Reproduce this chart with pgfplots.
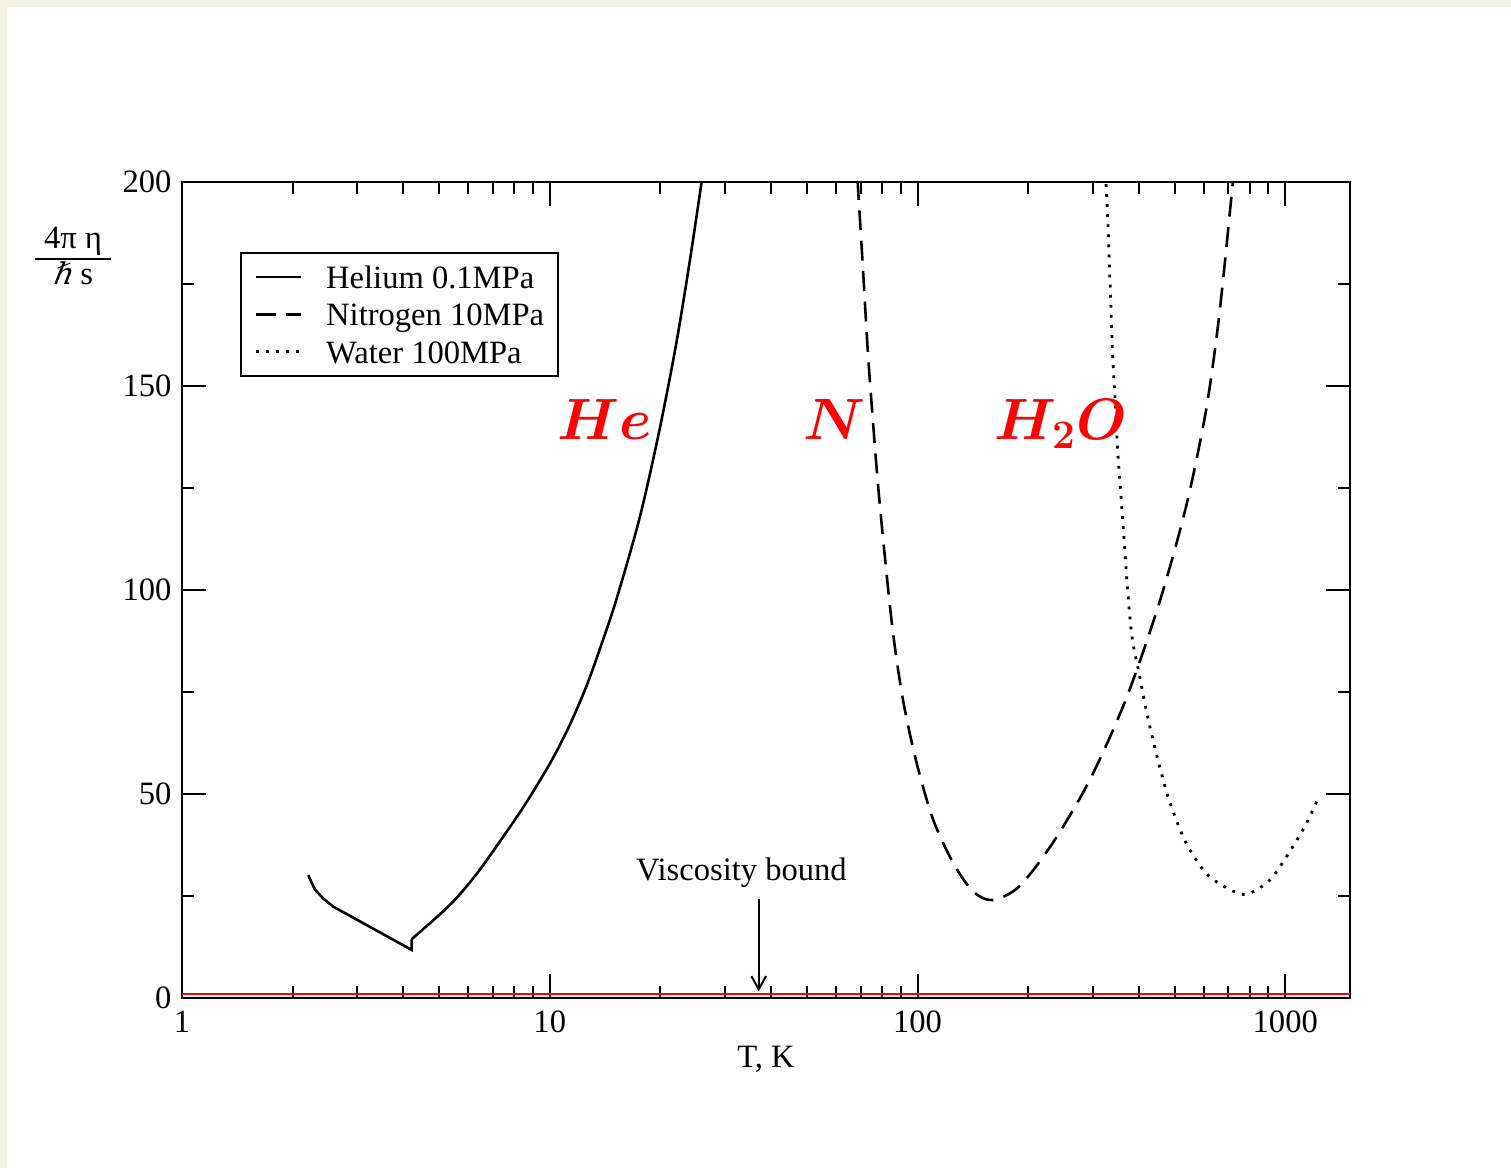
\documentclass[border=0pt]{standalone}
\usepackage{pgfplots}
\pgfplotsset{compat=1.18}
\usepackage{fontspec}
\setmainfont{Liberation Serif}
\newfontfamily\hbarfont[FakeSlant=0.2, Scale=0.92]{DejaVu Serif}
\usetikzlibrary{arrows.meta}
\definecolor{pagetint}{RGB}{242,242,228}

\begin{document}
\fontsize{13.9}{16.7}\selectfont
\begin{tikzpicture}
% page area and its tinted margins
\path[use as bounding box] (-2.73,-2.55) rectangle (19.935,14.97);
\fill[pagetint] (-2.73,-2.55) rectangle (-2.625,14.97);
\fill[pagetint] (-2.73,14.865) rectangle (19.935,14.97);

\begin{axis}[
  at={(0,0)}, anchor=south west,
  scale only axis, width=17.52cm, height=12.24cm,
  xmode=log, xmin=1, xmax=1500, ymin=0, ymax=200,
  xtick={1,10,100,1000}, xticklabels={1,10,100,1000},
  minor xtick={2,3,4,5,6,7,8,9,20,30,40,50,60,70,80,90,200,300,400,500,600,700,800,900},
  ytick={0,50,100,150,200}, minor ytick={25,75,125,175},
  /pgf/number format/assume math mode=true,
  tick pos=both, tick align=inside,
  major tick length=0.36cm, minor tick length=0.18cm,
  tick style={black, line width=0.85pt},
  axis line style={line width=0.85pt},
  xticklabel style={anchor=base, yshift=-0.51cm, inner sep=0pt},
  yticklabel style={anchor=east, inner sep=0pt, xshift=-0.15cm},
  xlabel={T, K},
  xlabel style={at={(axis description cs:0.5,-0.0846)}, anchor=base, inner sep=0pt},
  legend style={at={(axis description cs:0.0497,0.9142)}, anchor=north west,
    draw=black, line width=0.85pt, fill=white,
    inner xsep=0.2cm, inner ysep=0.076cm, row sep=0pt, column sep=0.36cm,
    nodes={inner sep=0pt, text height=0.449cm, text depth=0.1135cm}},
  legend cell align=left,
  legend image code/.code={\draw[#1] (0cm,0cm) -- (0.675cm,0cm);},
]

% viscosity bound, eta/s = hbar/(4 pi)
\addplot[red, line width=0.85pt, forget plot] coordinates {(1,1) (1500,1)};

% helium, 0.1 MPa
\addplot[black, line width=1.1pt] coordinates {
  (2.204,30.1) (2.298,26.6) (2.42,24.4) (2.577,22.4) (4.21,11.8) (4.21,14.4)};
\addlegendentry{Helium 0.1MPa}
\addplot[black, line width=1.1pt, smooth, forget plot] coordinates {
  (4.21,14.4) (5.35,22.8) (6.3,30.2) (7.31,38.3) (8.55,47.3) (10.0,57.4)
  (11.25,66.3) (12.58,76.4) (13.8,86.5) (15.18,97.7) (17.57,117.8)
  (19.9,139.4) (22.1,160.6) (24.0,180.3) (25.8,199.2) (25.9,200.5)};

% nitrogen, 10 MPa
\addplot[black, line width=1.1pt, dash pattern=on 8.5pt off 4.5pt, smooth] coordinates {
  (68.7,200.5) (71.0,179.4) (73.3,158.2) (75.6,141.7) (78.0,126.3) (81.4,108.7)
  (85.7,89.8) (91.2,73.3) (99.2,58.0) (110.1,43.9) (124.7,33.3) (141.3,26.2)
  (160.2,24.0) (189.3,27.4) (233.2,38.0) (293.5,53.3) (369.1,73.3) (454.6,96.9)
  (537.5,120.5) (608.8,144.0) (661.9,167.6) (719.3,199.4) (720.5,200.5)};
\addlegendentry{Nitrogen 10MPa}

% water, 100 MPa
\addplot[black, line width=1.2pt, dash pattern=on 1.2pt off 3.1pt, smooth] coordinates {
  (325.6,199.5) (328.9,191.5) (332.4,180.0) (336.0,168.6) (339.4,157.1)
  (345.1,145.7) (350.2,134.2) (357.7,122.8) (365.2,111.3) (372.8,99.9)
  (383.2,88.4) (401.1,79.2) (422.5,68.9) (449.8,58.6) (484.0,48.3)
  (537.4,38.0) (608.8,30.6) (690.1,27.1) (781.9,25.4) (904.8,28.8)
  (1025.4,35.7) (1138.3,42.6) (1237.6,49.5)};
\addlegendentry{Water 100MPa}

% annotations
\node[anchor=base, inner sep=0pt] at (axis cs:33.2,28.9) {Viscosity bound};
\draw[line width=0.85pt, -{Straight Barb[length=0.2cm,width=0.22cm]}]
  (axis cs:37,24.3) -- (axis cs:37,1.6);
\node[anchor=base west, inner sep=0pt, red, font=\fontsize{24}{29}\selectfont\boldmath]
  at (axis cs:10.45,136.8) {$He$};
\node[anchor=base west, inner sep=0pt, red, font=\fontsize{24}{29}\selectfont\boldmath]
  at (axis cs:48.7,136.8) {$N$};
\node[anchor=base west, inner sep=0pt, red, font=\fontsize{24}{29}\selectfont\boldmath]
  at (axis cs:161.9,136.8) {$H_2O$};
\end{axis}

% y-axis quantity: 4 pi eta / (hbar s), set as one fraction
\node[anchor=base, inner sep=0pt] at (-1.635,10.963)
  {$\mbox{\hspace{0.14cm}4π η\hspace{0.14cm}}\above0.85pt\mbox{{\hbarfont ℏ} s}$};
\end{tikzpicture}
\end{document}
